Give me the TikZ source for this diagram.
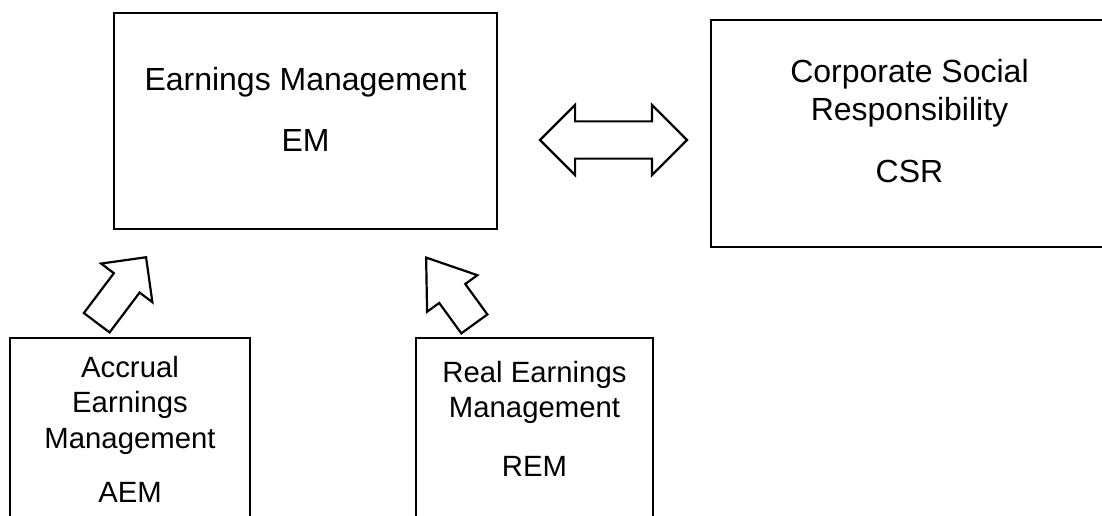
\documentclass[tikz,border=0pt]{standalone}
\usepackage{fontspec}
\setmainfont{Liberation Sans}
\usetikzlibrary{positioning,shapes.arrows}

\begin{document}
\begin{tikzpicture}[x=1pt,y=-1pt,
	box/.style={shape=rectangle,draw,line width=2.6pt},
	toptext/.style={align=center,inner sep=0pt,font=\fontsize{32}{38.5}\selectfont},
	lowtext/.style={align=center,inner sep=0pt,font=\fontsize{29.3}{35.5}\selectfont},
	fatarrow/.style={single arrow,draw,line width=2.2pt,inner sep=15pt,minimum height=82pt},
	]
		\useasboundingbox (0,0) rectangle (1102,516);
		\clip (0,0) rectangle (1102,516);
		% create the nodes
		\node (em) [box,minimum width=383pt,minimum height=216pt] at (305.5,121) {};
		\node (emtxt) [toptext,below=55pt of em.north] {Earnings Management\\[23pt]EM};
		
		\node (csr) [box,minimum width=397pt,minimum height=227pt] at (909.5,133.5) {};
		\node (csrtxt) [toptext,below=40pt of csr.north] {Corporate Social\\Responsibility\\[23.5pt]CSR};
		
		\node (aem) [box,minimum width=240pt,minimum height=200pt] at (130,438) {};
		\node (aemtxt) [lowtext,below=19pt of aem.north] {Accrual\\Earnings\\Management\\[18.5pt]AEM};
		
		\node (rem) [box,minimum width=237pt,minimum height=200pt] at (534.5,438) {};
		\node (remtxt) [lowtext,below=24pt of rem.north] {Real Earnings\\Management\\[23.5pt]REM};
		
		% connect the nodes
		\node (link) [double arrow,draw,line width=2.2pt,inner sep=17.5pt,minimum width=68pt,minimum height=147pt,double arrow head extend=16.5pt] at (613.5,140) {};
		\node (aemup) [fatarrow,minimum width=62pt,single arrow head extend=16pt,rotate=53,anchor=tip] at (147,256) {};
		\node (remup) [fatarrow,minimum width=60pt,single arrow head extend=15pt,single arrow tip angle=70,rotate=126,anchor=tip] at (425,256) {};
		
	\end{tikzpicture}
\end{document}
